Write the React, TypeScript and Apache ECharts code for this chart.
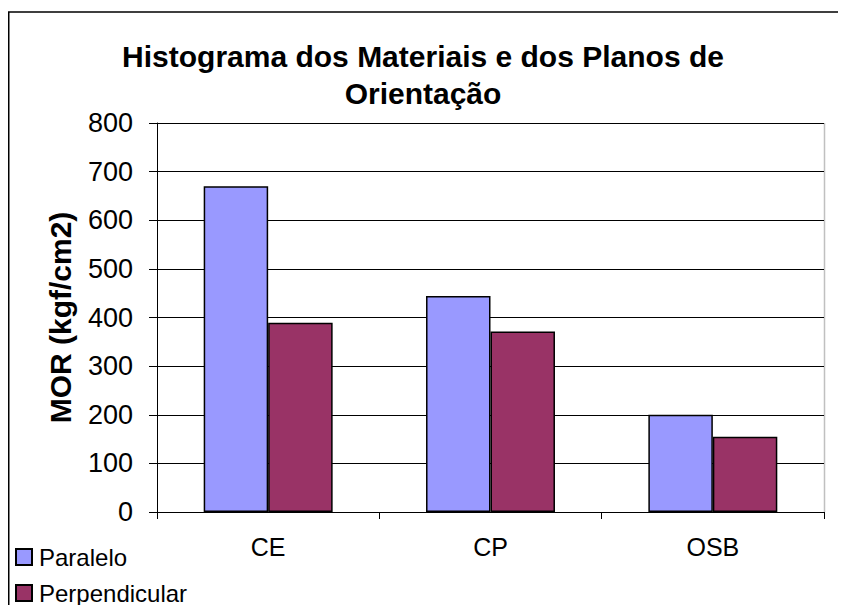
import React, { useEffect, useRef } from "react";
import * as echarts from "echarts";

const categories = ["CE", "CP", "OSB"];
const paralelo = [670, 444, 200];
const perpendicular = [389, 371, 155];
const seriesNames = ["Paralelo", "Perpendicular"];
const titleText = "Histograma dos Materiais e dos Planos de\nOrientação";
const yAxisName = "MOR (kgf/cm2)";

export default function App() {
  const ref = useRef<HTMLDivElement>(null);
  useEffect(() => {
    if (!ref.current) return;
    const chart = echarts.init(ref.current, undefined, { renderer: "svg" });
    const font = "'Liberation Sans', Arial, sans-serif";
    const legendText = { fontFamily: font, fontSize: 24, color: "#000", lineHeight: 24, padding: [0, 0, 0, 2] };
    chart.setOption({
      animation: false,
      backgroundColor: "#ffffff",
      textStyle: { fontFamily: font },
      title: {
        text: titleText,
        left: 410,
        textAlign: "center",
        top: 25,
        textStyle: { fontFamily: font, fontSize: 30, fontWeight: "bold", color: "#000", lineHeight: 37 },
      },
      legend: [
        {
          orient: "vertical",
          left: 7,
          top: 537,
          padding: 0,
          icon: "rect",
          itemWidth: 16,
          itemHeight: 16,
          textStyle: legendText,
          data: [seriesNames[0]],
        },
        {
          orient: "vertical",
          left: 7,
          top: 573,
          padding: 0,
          icon: "rect",
          itemWidth: 16,
          itemHeight: 16,
          textStyle: legendText,
          data: [seriesNames[1]],
        },
      ],
      grid: { left: 149, right: 22, top: 115, bottom: 93, containLabel: false },
      xAxis: {
        type: "category",
        data: categories,
        axisLine: { show: true, lineStyle: { color: "#000", width: 1 } },
        axisTick: { show: true, inside: false, length: 7, alignWithLabel: false, lineStyle: { color: "#000" } },
        axisLabel: { fontFamily: font, fontSize: 25, color: "#000", margin: 22 },
        splitLine: { show: false },
      },
      yAxis: {
        type: "value",
        min: 0,
        max: 800,
        interval: 100,
        name: yAxisName,
        nameLocation: "middle",
        nameGap: 82,
        nameRotate: 90,
        nameTextStyle: { fontFamily: font, fontSize: 30, fontWeight: "bold", color: "#000" },
        axisLine: { show: true, lineStyle: { color: "#000", width: 1 } },
        axisTick: { show: true, inside: false, length: 8, lineStyle: { color: "#000" } },
        axisLabel: { fontFamily: font, fontSize: 27, color: "#000", margin: 24 },
        splitLine: { show: true, lineStyle: { color: "#000", width: 1 } },
      },
      series: [
        {
          name: seriesNames[0],
          type: "bar",
          data: paralelo,
          barGap: "0%",
          barCategoryGap: "42%",
          itemStyle: { color: "#9999FF", borderColor: "#000", borderWidth: 1.5 },
        },
        {
          name: seriesNames[1],
          type: "bar",
          data: perpendicular,
          barGap: "0%",
          barCategoryGap: "42%",
          itemStyle: { color: "#993366", borderColor: "#000", borderWidth: 1.5 },
        },
      ],
      graphic: [
        {
          type: "rect",
          shape: { x: 0.75, y: 4, width: 1200, height: 1200 },
          style: { fill: "none", stroke: "#000", lineWidth: 1.5 },
          silent: true,
          z: 100,
        },
        {
          type: "line",
          shape: { x1: 816.5, y1: 115, x2: 816.5, y2: 504 },
          style: { stroke: "#c0c0c0", lineWidth: 1.5 },
          silent: true,
        },
      ],
    });
    return () => chart.dispose();
  }, []);
  return <div ref={ref} style={{ width: 838, height: 597 }} />;
}
